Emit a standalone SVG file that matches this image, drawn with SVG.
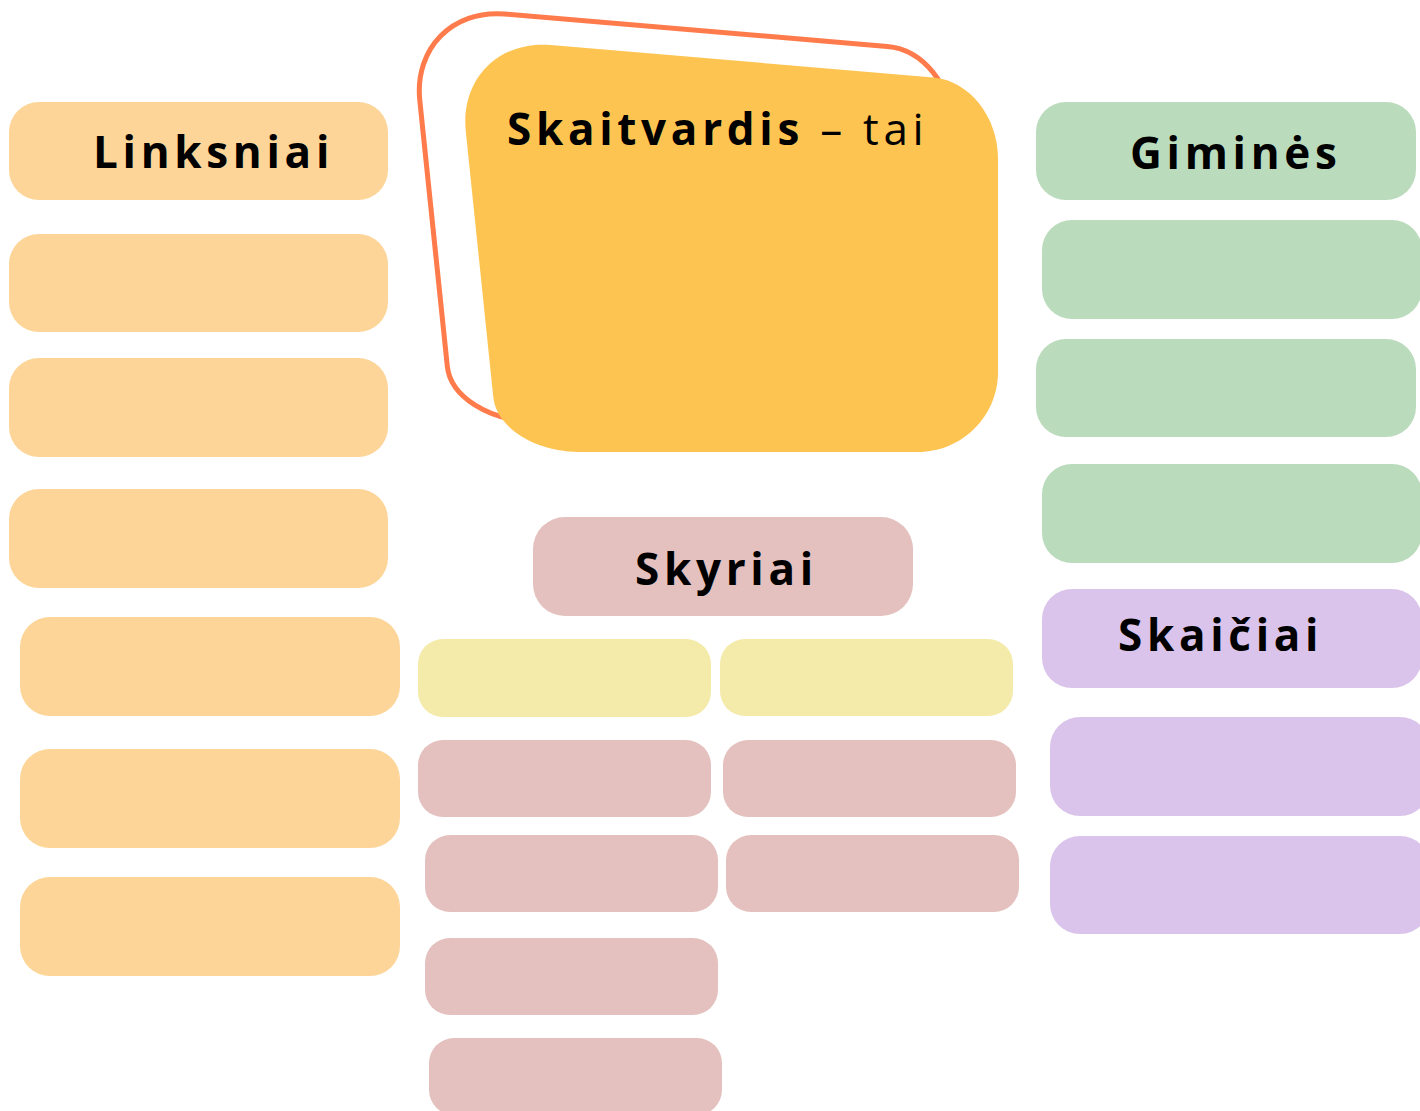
<svg xmlns="http://www.w3.org/2000/svg" width="1420" height="1111" viewBox="0 0 1420 1111">
<defs>
<style>
.t{font-family:"Open Sans","Noto Sans","Liberation Sans",sans-serif;font-weight:700;font-size:44px;letter-spacing:4.7px;fill:#000}
.o{fill:#FDD599}.g{fill:#BBDBBD}.p{fill:#DBC4EB}.r{fill:#E4C1BE}.y{fill:#F4EAAA}
</style>
<path id="blob" d="M465.8,131.5 C460.4,79.3 498.4,40.6 550.6,45 L933.3,77.5 C969,80.5 998,116.6 998,158 L998,372 C998,416.2 962.2,452 918,452 L579,452 C534.8,452 496.4,427.5 493.3,397.3 Z"/>
</defs>
<rect width="1420" height="1111" fill="#fff"/>
<g id="center">
<use href="#blob" transform="translate(-46,-31)" fill="none" stroke="#FF7B4B" stroke-width="5"/>
<use href="#blob" fill="#FEC451"/>
<text x="507" y="145" class="t">Skaitvardis<tspan font-weight="400"> – tai</tspan></text>
</g>
<g id="linksniai">
<rect class="o" x="9" y="102" width="379" height="98" rx="30"/>
<text x="93" y="168" class="t">Linksniai</text>
</g>
<g id="l2"><rect class="o" x="9" y="234" width="379" height="98" rx="30"/></g>
<g id="l3"><rect class="o" x="9" y="358" width="379" height="99" rx="30"/></g>
<g id="l4"><rect class="o" x="9" y="489" width="379" height="99" rx="30"/></g>
<g id="l5"><rect class="o" x="20" y="617" width="380" height="99" rx="30"/></g>
<g id="l6"><rect class="o" x="20" y="749" width="380" height="99" rx="30"/></g>
<g id="l7"><rect class="o" x="20" y="877" width="380" height="99" rx="30"/></g>
<g id="gimines">
<rect class="g" x="1036" y="102" width="380" height="98" rx="30"/>
<text x="1130" y="169" class="t">Giminės</text>
</g>
<g id="g2"><rect class="g" x="1042" y="220" width="380" height="99" rx="30"/></g>
<g id="g3"><rect class="g" x="1036" y="339" width="380" height="98" rx="30"/></g>
<g id="g4"><rect class="g" x="1042" y="464" width="380" height="99" rx="30"/></g>
<g id="skaiciai">
<rect class="p" x="1042" y="589" width="380" height="99" rx="30"/>
<text x="1118" y="651" class="t">Skaičiai</text>
</g>
<g id="s2"><rect class="p" x="1050" y="717" width="380" height="99" rx="30"/></g>
<g id="s3"><rect class="p" x="1050" y="836" width="380" height="98" rx="30"/></g>
<g id="skyriai">
<rect class="r" x="533" y="517" width="380" height="99" rx="32"/>
<text x="635" y="585" class="t">Skyriai</text>
</g>
<g id="k1"><rect class="y" x="418" y="639" width="293" height="78" rx="25"/></g>
<g id="k2"><rect class="y" x="720" y="639" width="293" height="77" rx="25"/></g>
<g id="k3"><rect class="r" x="418" y="740" width="293" height="77" rx="25"/></g>
<g id="k4"><rect class="r" x="723" y="740" width="293" height="77" rx="25"/></g>
<g id="k5"><rect class="r" x="425" y="835" width="293" height="77" rx="25"/></g>
<g id="k6"><rect class="r" x="726" y="835" width="293" height="77" rx="25"/></g>
<g id="k7"><rect class="r" x="425" y="938" width="293" height="77" rx="25"/></g>
<g id="k8"><rect class="r" x="429" y="1038" width="293" height="77" rx="25"/></g>
<g id="connectors"/>
</svg>
